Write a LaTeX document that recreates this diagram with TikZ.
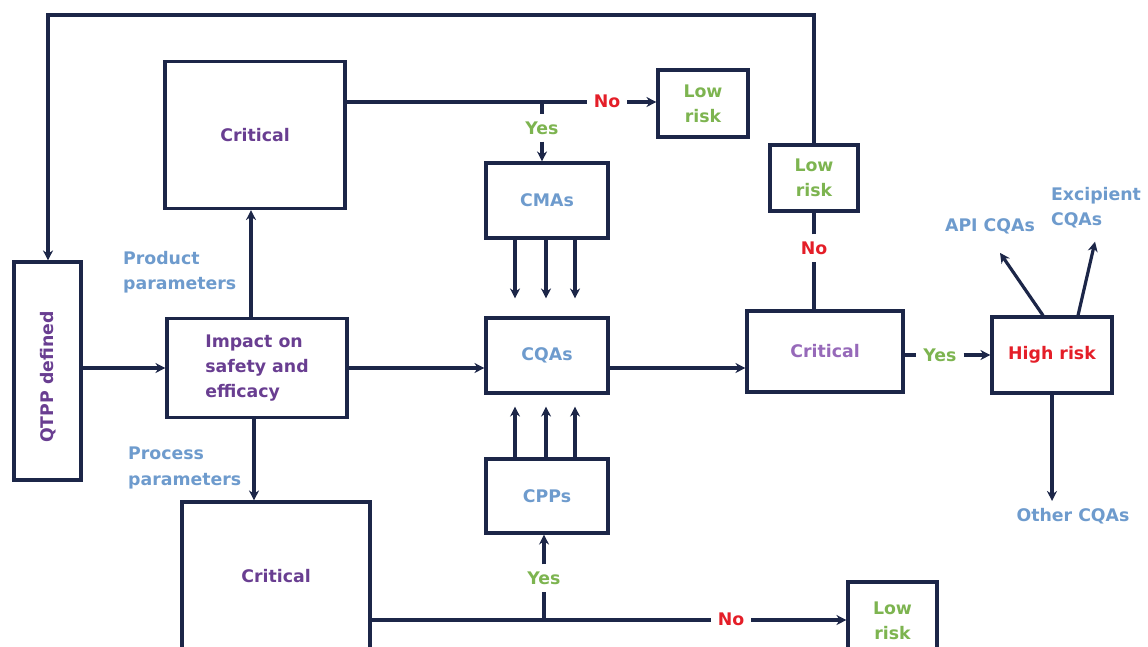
\documentclass[tikz,border=0pt]{standalone}
\usepackage{fontspec}
\setmainfont{DejaVu Sans}
\usetikzlibrary{arrows.meta,calc}

\definecolor{navy}{RGB}{28,38,72}
\definecolor{purp}{RGB}{105,62,145}
\definecolor{lpurp}{RGB}{150,105,185}
\definecolor{sky}{RGB}{110,155,205}
\definecolor{leaf}{RGB}{125,180,80}
\definecolor{alarm}{RGB}{228,30,40}

\tikzset{every picture/.style={line width=0.75pt}}
\tikzset{
  sz/.style 2 args={minimum width=#1*0.75pt, minimum height=#2*0.75pt},
  box/.style={draw=navy, line width=2.35pt, inner sep=0pt, align=center,
    font=\fontsize{13}{19}\selectfont\bfseries},
  lbl/.style={inner sep=5pt, font=\fontsize{13}{19}\selectfont\bfseries},
  link/.style={draw=navy, line width=2.4pt},
  arr/.style={link, -{Stealth[length=7.5pt,width=7.5pt]}},
}

\begin{document}
\begin{tikzpicture}[x=0.75pt,y=0.75pt,yscale=-1,xscale=1]
        \useasboundingbox (0,0) rectangle (1148,646);

        %Shape: Rectangle [qtpp]
        \node[box, sz={67}{218}] (qtpp) at (47.5,371) {};
        \node[lbl, rotate=90, text=purp] (qtpplbl) at (48,377) {QTPP defined};
        %Shape: Rectangle [critical, product side]
        \node[box, sz={180}{147}, text=purp] (crit1) at (255,135) {Critical};
        %Shape: Rectangle [impact]
        \node[box, sz={180}{99}, text=purp, align=left] (impact) at (257,368) {Impact on\\safety and\\efficacy};
        %Shape: Rectangle [critical, process side]
        \node[box, sz={188}{148}, text=purp] (crit2) at (276,576) {Critical};
        %Shape: Rectangle [cmas / cqas / cpps]
        \node[box, sz={122}{75}, text=sky] (cma) at (547,200.5) {CMAs};
        \node[box, sz={122}{75}, text=sky] (cqa) at (547,355.5) {CQAs};
        \node[box, sz={122}{74}, text=sky] (cpp) at (547,496) {CPPs};
        %Shape: Rectangle [low risk boxes]
        \node[box, sz={90}{67}, text=leaf] (low1) at (703,103.5) {Low\\risk};
        \node[box, sz={88}{66}, text=leaf] (low2) at (814,178) {Low\\risk};
        \node[box, sz={89}{78}, text=leaf] (low3) at (892.5,621) {Low\\risk};
        %Shape: Rectangle [critical, cqa side]
        \node[box, sz={156}{81}, text=lpurp] (crit3) at (825,351.5) {Critical};
        %Shape: Rectangle [high risk]
        \node[box, sz={120}{76}, text=alarm] (high) at (1052,355) {High risk};

        % Text Node
        \node[lbl, text=sky, align=left, anchor=west] (prodlbl) at (116,272) {Product\\parameters};
        % Text Node
        \node[lbl, text=sky, align=left, anchor=west] (proclbl) at (121,468) {Process\\parameters};
        % Text Node
        \node[lbl, text=alarm] (no1) at (607,101) {No};
        \node[lbl, text=leaf] (yes1) at (542,128) {Yes};
        \node[lbl, text=alarm] (no2) at (731,619) {No};
        \node[lbl, text=leaf] (yes2) at (544,578) {Yes};
        \node[lbl, text=alarm] (no3) at (814,248) {No};
        \node[lbl, text=leaf] (yes3) at (940,355) {Yes};
        % Text Node
        \node[lbl, text=sky] (api) at (990,226) {API CQAs};
        \node[lbl, text=sky, align=left] (exc) at (1096,208) {Excipient\\CQAs};
        \node[lbl, text=sky] (other) at (1073,516) {Other CQAs};

        %Straight Lines [loop back to qtpp]
        \coordinate (tr) at (814,15);
        \coordinate (tl) at (48,15);
        \draw[arr] (low2.north) -- (tr) -- (tl) -- (tl |- qtpp.north);
        %Straight Lines [main row]
        \draw[arr] (qtpp.east |- impact) -- (impact.west);
        \draw[arr] (impact.east) -- (cqa.west |- impact.east);
        \draw[arr] (cqa.east |- impact.east) -- (crit3.west |- impact.east);
        \draw[link] (crit3.east |- yes3) -- (yes3.west);
        \draw[arr] (yes3.east) -- (high.west |- yes3);
        %Straight Lines [parameters]
        \coordinate (pp) at ($(impact.north)+(-6,0)$);
        \coordinate (pq) at ($(impact.south)+(-3,0)$);
        \draw[arr] (pp) -- (pp |- crit1.south);
        \draw[arr] (pq) -- (pq |- crit2.north);
        %Straight Lines [product branch]
        \coordinate (j1) at (542,102);
        \draw[link] (crit1.east |- j1) -- (no1.west |- j1);
        \draw[arr] (no1.east |- j1) -- (low1.west |- j1);
        \draw[link] (j1) -- (yes1.north);
        \draw[arr] (yes1.south) -- (cma.north -| j1);
        %Straight Lines [process branch]
        \coordinate (j2) at (544,620);
        \draw[link] (crit2.east |- j2) -- (no2.west |- j2);
        \draw[arr] (no2.east |- j2) -- (low3.west |- j2);
        \draw[link] (j2) -- (yes2.south);
        \draw[arr] (yes2.north) -- (cpp.south -| j2);
        %Straight Lines [into cqas]
        \foreach \dx in {-32,-1,28} {
          \draw[arr, shorten >=18*0.75pt] ($(cma.south)+(\dx,0)$) -- ($(cqa.north)+(\dx,0)$);
          \draw[arr, shorten >=12*0.75pt] ($(cpp.north)+(\dx,0)$) -- ($(cqa.south)+(\dx,0)$);
        }
        %Straight Lines [no, to low risk]
        \draw[link] (crit3.north -| no3) -- (no3.south);
        \draw[link] (no3.north) -- (low2.south);
        %Straight Lines [high risk outputs]
        \draw[arr] ($(high.north)+(-9,0)$) -- ($(api.south)+(10,12)$);
        \draw[arr] ($(high.north)+(26,0)$) -- ($(exc.south)+(-1,6)$);
        \draw[arr] (high.south) -- (high.south |- other.north);

\end{tikzpicture}
\end{document}
